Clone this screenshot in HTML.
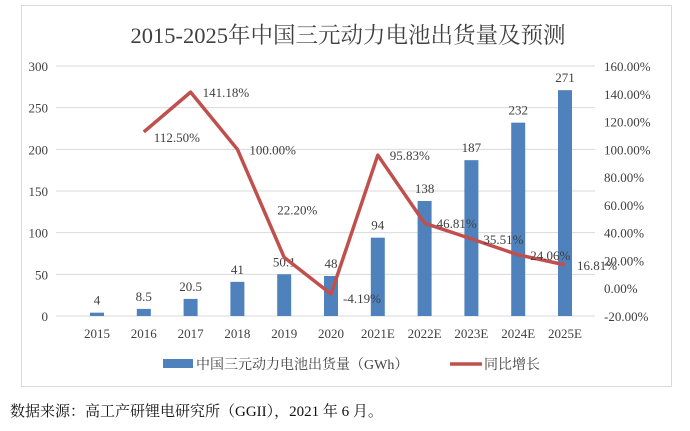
<!DOCTYPE html>
<html><head><meta charset="utf-8"><style>
body{margin:0;background:#fff;width:690px;height:426px;overflow:hidden;font-family:"Liberation Serif","Noto Serif CJK SC",serif;}
svg text{font-family:"Liberation Serif","Noto Serif CJK SC",serif;fill:#404040;}
</style></head><body>
<svg id="c" width="690" height="426">
<rect x="21.5" y="5.5" width="650" height="381" fill="#fff" stroke="#d9d9d9"/>
<text x="348" y="43" text-anchor="middle" font-size="22.5">2015-2025年中国三元动力电池出货量及预测</text>
<g id="g"></g>
<g>
<rect x="163" y="359" width="30" height="9" fill="#4f81bd"/>
<text x="196" y="369" font-size="14">中国三元动力电池出货量（GWh）</text>
<line x1="450" y1="364" x2="482" y2="364" stroke="#c0504d" stroke-width="3.5"/>
<text x="484" y="369" font-size="14">同比增长</text>
</g>
<text x="10" y="416" font-size="15" style="fill:#111">数据来源：高工产研锂电研究所（GGII），2021 年 6 月。</text>
</svg>
<script>
const categories=["2015","2016","2017","2018","2019","2020","2021E","2022E","2023E","2024E","2025E"];
const shipments=[4,8.5,20.5,41,50.1,48,94,138,187,232,271];
const shipmentLabels=["4","8.5","20.5","41","50.1","48","94","138","187","232","271"];
const growth=[null,112.5,141.18,100,22.2,-4.19,95.83,46.81,35.51,24.06,16.81];
const growthLabels=["","112.50%","141.18%","100.00%","22.20%","-4.19%","95.83%","46.81%","35.51%","24.06%","16.81%"];
const leftTicks=[0,50,100,150,200,250,300];
const rightTicks=[-20,0,20,40,60,80,100,120,140,160];
const NS="http://www.w3.org/2000/svg";
const g=document.getElementById('g');
const yTop=66,yBot=316,xL=56,xR=595;
const yL=v=>yBot-(v/300)*(yBot-yTop);
const yR=v=>yBot-((v+20)/180)*(yBot-yTop);
const step=(565-97)/(categories.length-1);
const xC=i=>97+i*step;
function mk(tag,a){const e=document.createElementNS(NS,tag);for(const k in a)e.setAttribute(k,a[k]);g.appendChild(e);return e;}
leftTicks.forEach(t=>{
 const l=mk('line',{x1:xL,x2:xR,y1:yL(t),y2:yL(t),stroke:'#d9d9d9'});
 
 
 const tx=mk('text',{x:48,y:yL(t)+5,'text-anchor':'end','font-size':13});tx.textContent=t;
 
 
});
rightTicks.forEach(t=>{
 const tx=mk('text',{x:604,y:yR(t)+5,'font-size':13});tx.textContent=t.toFixed(2)+'%';
 
 
});
categories.forEach((c,i)=>{
 const tx=mk('text',{x:xC(i),y:338,'text-anchor':'middle','font-size':13});tx.textContent=c;
 
 
 const b=mk('rect',{x:xC(i)-7,y:yL(shipments[i]),width:14,height:yBot-yL(shipments[i]),fill:'#4f81bd'});
 
 
 const bl=mk('text',{x:xC(i),y:yL(shipments[i])-8,'text-anchor':'middle','font-size':13});bl.textContent=shipmentLabels[i];
 
 
});
let pts=[];
growth.forEach((v,i)=>{if(v!==null)pts.push(xC(i)+','+yR(v));});
const pl=mk('polyline',{points:pts.join(' '),fill:'none',stroke:'#c0504d','stroke-width':3.5,'stroke-linejoin':'round'});


growth.forEach((v,i)=>{if(v===null)return;
 let x=xC(i)+12,y=yR(v)+5;
 if(i===1){x=xC(i)+10;y=yR(v)+10;}
 if(i===4){x=xC(i)-7;y=yR(v)-43;}
 if(i===5){y=yR(v)+9;}
 const tx=mk('text',{x:x,y:y,'font-size':13});tx.textContent=growthLabels[i];
 
 
});
</script>
</body></html>
